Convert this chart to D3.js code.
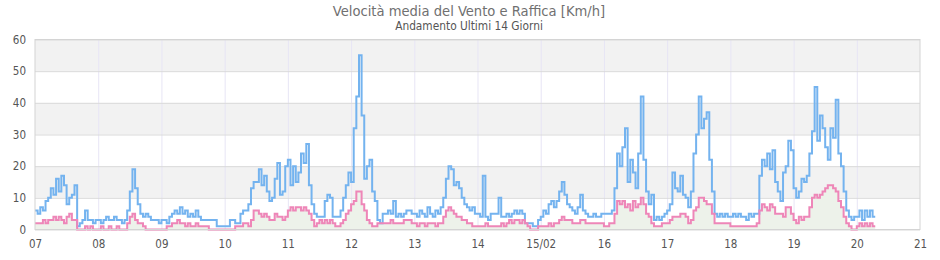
<!DOCTYPE html>
<html><head><meta charset="utf-8">
<script src="https://cdn.jsdelivr.net/npm/d3@7"></script>
<style>
body{margin:0;background:#fff}
svg text{font-family:"DejaVu Sans Condensed","DejaVu Sans",sans-serif;font-stretch:condensed}
</style></head><body>
<svg id="c" width="940" height="260"></svg>
<script>
const title = "Velocità media del Vento e Raffica [Km/h]";
const subtitle = "Andamento Ultimi 14 Giorni";
const dayLabels = ["07","08","09","10","11","12","13","14","15/02","16","17","18","19","20","21"];
const yTicks = [0,10,20,30,40,50,60];

// hourly values, starting 07 00:00
const gust = [
 6,5,7,6,9,10,13,11,16,12,17,14,8,10,11,14,1,2,3,6,3,3,2,3,
 3,2,3,4,3,3,4,3,3,2,3,6,12,19,13,8,5,4,5,4,3,3,3,2,
 3,3,2,4,5,6,5,7,5,6,4,5,4,6,4,3,3,3,3,3,3,1,1,1,
 1,1,3,3,2,2,5,6,6,8,13,15,15,19,14,17,12,9,10,16,21,11,12,20,
 22,14,20,15,18,24,21,27,14,8,5,4,4,4,9,11,10,4,4,4,6,10,14,18,
 15,32,42,55,36,16,20,22,12,9,3,2,5,5,6,5,9,4,5,4,5,6,6,5,
 5,4,6,5,4,7,5,4,6,5,7,10,16,20,19,14,15,13,10,8,7,6,7,5,
 5,4,17,4,3,5,5,5,10,4,4,5,4,5,6,5,6,5,2,2,2,1,1,3,
 4,6,5,8,9,7,9,12,15,11,8,7,6,5,7,11,6,5,4,4,5,4,4,5,
 5,5,5,6,13,24,20,26,32,15,22,18,13,24,42,22,12,8,11,3,4,3,4,5,
 6,8,18,13,12,17,11,10,7,12,24,30,42,32,35,37,22,12,5,4,5,4,5,4,
 4,5,4,5,4,4,3,5,4,5,5,17,22,20,24,19,25,15,12,9,18,20,28,25,
 13,10,12,16,15,17,24,31,45,28,36,32,26,22,32,29,41,24,20,12,6,4,3,4,
 4,6,3,6,4,6,4,4
];
const mean = [
 2,2,2,3,2,3,3,4,3,4,3,2,4,5,3,3,0,0,0,1,0,1,0,0,
 0,1,0,0,1,0,0,1,0,0,0,2,4,5,3,2,2,1,0,0,0,0,0,0,
 0,0,1,1,2,2,3,2,2,1,2,1,1,2,1,1,1,1,0,0,0,0,0,0,
 0,0,0,0,1,1,1,2,2,1,3,6,6,5,4,5,4,3,3,5,4,4,3,4,
 6,7,6,7,7,6,7,6,5,3,1,2,3,2,3,2,3,2,1,1,2,3,5,6,
 8,9,12,12,8,6,3,2,1,1,2,2,2,2,2,3,2,2,2,2,3,3,3,2,
 2,1,2,2,1,2,2,2,1,2,2,4,6,7,6,5,4,4,3,3,2,2,1,1,
 1,1,1,2,1,1,1,1,1,2,1,2,3,2,3,3,2,3,2,1,0,0,0,1,
 1,1,1,2,1,2,2,3,4,3,3,3,2,2,2,3,3,2,2,2,2,2,2,2,
 1,1,2,2,5,9,8,9,7,8,6,9,7,8,10,8,5,4,2,1,1,1,2,2,
 2,3,4,4,4,5,5,4,2,3,6,7,10,10,9,8,8,5,2,2,2,2,2,2,
 1,1,1,1,1,1,1,1,1,1,2,6,8,7,6,8,7,5,5,5,4,7,7,5,
 3,2,4,3,4,4,7,10,11,10,11,12,13,14,14,13,12,9,7,4,2,1,0,0,
 1,2,1,2,1,2,1,1
];

const svg = d3.select("#c");
const W = 940, H = 260;
const m = {l:35, r:20, t:39.5, b:30.5};
const x = d3.scaleLinear().domain([0, dayLabels.length-1]).range([m.l, W-m.r]);
const y = d3.scaleLinear().domain([0, 60]).range([H-m.b, m.t]);

// title
svg.append("text").attr("x", 469).attr("y", 15.5).attr("text-anchor","middle")
  .attr("font-size", 14.6).attr("fill", "#707070").text(title);
svg.append("text").attr("x", 469).attr("y", 30).attr("text-anchor","middle")
  .attr("font-size", 11.8).attr("fill", "#555").text(subtitle);

// bands
const bands = d3.pairs(yTicks).filter((d,i)=> i%2===1);
svg.append("g").selectAll("rect").data(bands).join("rect")
  .attr("x", x(0)).attr("width", x(dayLabels.length-1)-x(0))
  .attr("y", d=>y(d[1])).attr("height", d=>y(d[0])-y(d[1]))
  .attr("fill", "#f2f2f2");

// vertical grid
const xg = svg.append("g").attr("transform", `translate(0,${y(0)})`)
  .call(d3.axisBottom(x).tickValues(d3.range(1, dayLabels.length-1)).tickSize(-(y(0)-y(60))).tickFormat(""));
xg.select(".domain").remove();
xg.selectAll("line").attr("stroke", "#e7e5f5");

// horizontal grid
const yg = svg.append("g").attr("transform", `translate(${x(0)},0)`)
  .call(d3.axisLeft(y).tickValues(yTicks).tickSize(-(x(dayLabels.length-1)-x(0))).tickFormat(""));
yg.select(".domain").remove();
yg.selectAll("line").attr("stroke", "#dadada");

const t = i => i/24;
// area under mean
svg.append("path").datum(mean)
  .attr("d", d3.area().curve(d3.curveStepAfter).x((d,i)=>x(t(i))).y0(y(0)).y1(d=>y(d)))
  .attr("fill", "#edf2ea");

svg.append("path").datum(gust)
  .attr("d", d3.line().curve(d3.curveStepAfter).x((d,i)=>x(t(i))).y(d=>y(d)))
  .attr("fill", "none").attr("stroke", "#74b3ef").attr("stroke-width", 2);

svg.append("path").datum(mean)
  .attr("d", d3.line().curve(d3.curveStepAfter).x((d,i)=>x(t(i))).y(d=>y(d)))
  .attr("fill", "none").attr("stroke", "#ee86b8").attr("stroke-width", 2);

// border
svg.append("rect").attr("x", x(0)).attr("y", y(60)).attr("width", x(dayLabels.length-1)-x(0))
  .attr("height", y(0)-y(60)).attr("fill", "none").attr("stroke", "#d4d4d4");

// y labels
const ya = svg.append("g").attr("transform", `translate(${x(0)},0)`)
  .call(d3.axisLeft(y).tickValues(yTicks).tickSize(0).tickPadding(9));
ya.select(".domain").remove();
ya.selectAll("text").attr("font-size", 11.5).attr("fill", "#555");

// x labels
const xa = svg.append("g").attr("transform", `translate(0,${y(0)})`)
  .call(d3.axisBottom(x).tickValues(d3.range(dayLabels.length)).tickSize(0).tickPadding(10).tickFormat(i=>dayLabels[i]));
xa.select(".domain").remove();
xa.selectAll("text").attr("font-size", 11.5).attr("fill", "#555");
svg.selectAll("g").attr("font-family", null);
</script>
</body></html>
